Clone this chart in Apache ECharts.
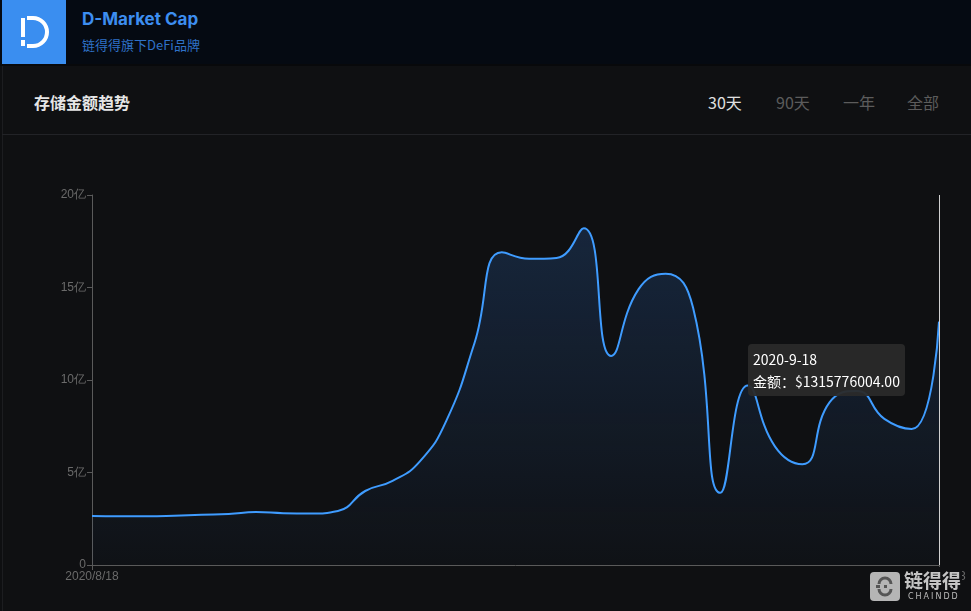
<!DOCTYPE html>
<html><head><meta charset="utf-8">
<script src="https://cdn.jsdelivr.net/npm/echarts@6/dist/echarts.min.js"></script>
<style>
html,body{margin:0;padding:0;background:#0e0f11;width:971px;height:611px;overflow:hidden;font-family:"Noto Sans CJK SC","Noto Sans",sans-serif;}
#top{position:absolute;left:0;top:0;width:971px;height:64px;background:#050a12;border-bottom:2px solid #08090b;}
#logo{position:absolute;left:2px;top:0;width:64px;height:64px;background:#3a8ef0;}
#brand{position:absolute;left:82px;top:9px;color:#3d8ef0;font-size:17px;font-weight:bold;font-family:Inter,"Noto Sans",sans-serif;}
#sub{position:absolute;left:82px;top:35px;color:#2f72c8;font-size:13px;}
#card{position:absolute;left:2px;top:66px;width:969px;height:545px;background:#0f1012;border-left:1px solid #1c1d20;}
#ctitle{position:absolute;left:34px;top:90px;color:#e6e6e6;font-size:16px;font-weight:bold;}
.tab{position:absolute;top:90px;font-size:16px;color:#5c5c5c;}
#sep{position:absolute;left:2px;top:134px;width:969px;height:1px;background:#222327;}
#chart{position:absolute;left:0;top:0;width:971px;height:611px;}
#wm{position:absolute;left:870px;top:571px;width:100px;height:32px;}
#wmicon{position:absolute;left:0;top:1px;width:30px;height:29px;background:#b5b5b5;border-radius:4px;}
#wmtext{position:absolute;left:33px;top:-4px;color:#c4c4c4;font-size:19px;font-weight:bold;background:#0f1012;padding:0 1px;line-height:26px;}
#wmsub{position:absolute;left:38px;top:21px;color:#bdbdbd;font-size:8px;letter-spacing:2px;font-family:"DejaVu Sans",sans-serif;}
</style></head>
<body>
<div id="top"></div>
<div id="logo"><svg width="64" height="64" viewBox="0 0 64 64"><path d="M25 18 H31 A14 14 0 0 1 31 46 H25" fill="none" stroke="#fff" stroke-width="4"/><rect x="19" y="18" width="4" height="19" fill="#fff"/><rect x="19" y="40" width="4" height="6" fill="#fff"/></svg></div>
<div id="brand">D-Market Cap</div>
<div id="sub">链得得旗下DeFi品牌</div>
<div id="card"></div>
<div id="ctitle">存储金额趋势</div>
<div class="tab" style="left:708px;color:#e0e0e0;">30天</div>
<div class="tab" style="left:776px;">90天</div>
<div class="tab" style="left:843px;">一年</div>
<div class="tab" style="left:907px;">全部</div>
<div id="sep"></div>
<div id="chart"></div>
<div id="wm"><div id="wmicon"><svg width="30" height="29" viewBox="0 0 30 29"><path d="M9 12 A6 6 0 0 1 21 12 M9 17 A6 6 0 0 0 21 17" fill="none" stroke="#555" stroke-width="3"/><rect x="6" y="13" width="4" height="3" fill="#555"/><rect x="14" y="13" width="3" height="3" fill="#555"/></svg></div><div id="wmtext">链得得</div><div id="wmsub">CHAINDD</div></div>
<script>
var dates = ["2020/8/18","2020/8/19","2020/8/20","2020/8/21","2020/8/22","2020/8/23","2020/8/24","2020/8/25","2020/8/26","2020/8/27","2020/8/28","2020/8/29","2020/8/30","2020/8/31","2020/9/1","2020/9/2","2020/9/3","2020/9/4","2020/9/5","2020/9/6","2020/9/7","2020/9/8","2020/9/9","2020/9/10","2020/9/11","2020/9/12","2020/9/13","2020/9/14","2020/9/15","2020/9/16","2020/9/17","2020/9/18"];
var valuesYi = [2.65,2.63,2.63,2.66,2.72,2.76,2.86,2.80,2.78,2.92,4.0,4.55,5.6,7.9,12.0,16.9,16.55,16.6,18.2,11.3,14.9,15.75,13.9,3.9,9.7,6.4,5.45,8.8,9.4,7.9,7.35,13.15776004];
var yTicks = [0,5e8,10e8,15e8,20e8];
var values = valuesYi.map(function(v){return Math.round(v*1e8);});
var chart = echarts.init(document.getElementById('chart'), null, {renderer:'canvas'});
chart.setOption({
  backgroundColor:'transparent',
  animation:false,
  grid:{left:92,right:32,top:195,bottom:46},
  tooltip:{trigger:'axis',triggerOn:'none',alwaysShowContent:true,
    backgroundColor:'rgba(42,42,42,0.95)',borderWidth:0,padding:[4,5],
    textStyle:{color:'#fff',fontSize:14,fontFamily:'"Noto Sans CJK SC",sans-serif'},
    extraCssText:'line-height:22px;border-radius:4px;box-shadow:none;',
    position:function(){return [748,344];},
    axisPointer:{type:'line',lineStyle:{color:'#d0d0d0',width:1,type:'solid'}},
    formatter:function(p){var d=p[0].name.split('/').join('-');return d+'<br/>金额：$'+p[0].value.toFixed(2);}
  },
  xAxis:{type:'category',data:dates,boundaryGap:false,
    axisLine:{lineStyle:{color:'#5a5a5a'}},
    axisTick:{show:true,interval:function(i){return i===0||i===dates.length-1;},lineStyle:{color:'#5a5a5a'}},
    axisLabel:{color:'#6a6a6a',fontSize:12,interval:function(i){return i===0||i===dates.length-1;},margin:6},
    splitLine:{show:false}},
  yAxis:{type:'value',min:0,max:20e8,interval:5e8,
    axisLine:{show:true,lineStyle:{color:'#5a5a5a'}},
    axisTick:{show:true,lineStyle:{color:'#5a5a5a'}},
    axisLabel:{color:'#6a6a6a',fontSize:12,margin:6,formatter:function(v){return v===0?'0':(v/1e8)+'亿';}},
    splitLine:{show:false}},
  series:[{type:'line',data:values,smooth:true,symbol:'none',showSymbol:false,
    lineStyle:{color:'#3a8ee8',width:2},
    itemStyle:{color:'#3a8ee8'},
    areaStyle:{color:new echarts.graphic.LinearGradient(0,0,0,1,[{offset:0,color:'rgba(40,90,160,0.38)'},{offset:1,color:'rgba(40,90,160,0.04)'}])}
  }]
});
chart.dispatchAction({type:'showTip',seriesIndex:0,dataIndex:dates.length-1});
</script>
</body></html>
